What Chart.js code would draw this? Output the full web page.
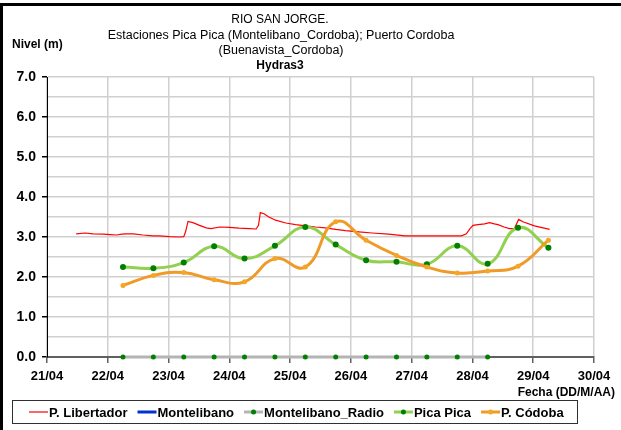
<!DOCTYPE html>
<html lang="es">
<head>
<meta charset="utf-8">
<title>Rio San Jorge - Hydras3</title>
<script src="https://cdn.jsdelivr.net/npm/chart.js@4.4.0/dist/chart.umd.min.js"></script>
<style>
  html, body { margin: 0; padding: 0; background: #fff; }
</style>
</head>
<body>
<canvas id="Niveles" width="621" height="430"></canvas>
<script>
// Fechas como día de abril con fracción (23.5 = 23/04 12:00)
const fechasLibertador = [
  21.48, 21.63, 21.76, 21.93, 22.04, 22.15, 22.23, 22.31, 22.42, 22.58,
  22.74, 22.85, 23.02, 23.18, 23.25, 23.28, 23.32, 23.40, 23.51, 23.62,
  23.70, 23.84, 24.00, 24.16, 24.33, 24.44, 24.48, 24.51, 24.57, 24.65,
  24.76, 24.93, 25.09, 25.26, 25.42, 25.58, 25.75, 25.91, 26.13, 26.35,
  26.62, 26.89, 27.16, 27.44, 27.82, 27.90, 27.96, 28.01, 28.09, 28.20,
  28.28, 28.36, 28.42, 28.52, 28.61, 28.69, 28.76, 28.83, 29.02, 29.27
];
const nivelesLibertador = [
  3.08, 3.10, 3.08, 3.07, 3.06, 3.05, 3.07, 3.08, 3.08, 3.05,
  3.03, 3.03, 3.01, 3.00, 3.01, 3.13, 3.39, 3.36, 3.29, 3.23,
  3.21, 3.25, 3.24, 3.22, 3.21, 3.20, 3.29, 3.61, 3.58, 3.50,
  3.42, 3.35, 3.31, 3.28, 3.25, 3.23, 3.19, 3.16, 3.13, 3.10,
  3.07, 3.03, 3.03, 3.03, 3.03, 3.08, 3.21, 3.29, 3.31, 3.33,
  3.36, 3.33, 3.31, 3.25, 3.21, 3.21, 3.44, 3.38, 3.28, 3.19
];

// Montelibano no tiene datos en el periodo
const fechasMontelibano = [];
const nivelesMontelibano = [];

const fechasRadio = [22.25, 22.75, 23.25, 23.75, 24.25, 24.75, 25.25, 25.75, 26.25, 26.75, 27.25, 27.75, 28.25];
const nivelesRadio = [0, 0, 0, 0, 0, 0, 0, 0, 0, 0, 0, 0, 0];

const fechasEstaciones = [22.25, 22.75, 23.25, 23.75, 24.25, 24.75, 25.25, 25.75, 26.25, 26.75, 27.25, 27.75, 28.25, 28.75, 29.25];
const nivelesPicaPica = [2.25, 2.22, 2.36, 2.77, 2.46, 2.78, 3.25, 2.81, 2.42, 2.38, 2.32, 2.78, 2.33, 3.23, 2.73];
const nivelesCordoba = [1.79, 2.04, 2.11, 1.93, 1.88, 2.46, 2.25, 3.38, 2.92, 2.54, 2.25, 2.10, 2.15, 2.27, 2.92];

const nombresSeries = ["P. Libertador", "Montelibano", "Montelibano_Radio", "Pica Pica", "P. Códoba"];
const lineasTitulo = ["RIO SAN JORGE.", "Estaciones Pica Pica (Montelibano_Cordoba); Puerto Cordoba", "(Buenavista_Cordoba)"];
const subtitulo = "Hydras3";
const tituloEjeY = "Nivel (m)";
const tituloEjeX = "Fecha (DD/M/AA)";
const mes = "04";

const fuente = "'Liberation Sans', Arial, sans-serif";

function puntos(fechas, niveles) {
  return fechas.map((f, i) => ({ x: f, y: niveles[i] }));
}

// Títulos, marco y leyenda dibujados a mano
const decoracion = {
  id: "decoracion",
  afterDraw(chart) {
    const c = chart.ctx;
    c.save();

    // marco negro superior e izquierdo
    c.fillStyle = "#000";
    c.fillRect(0, 3, 621, 3);
    c.fillRect(0, 3, 3, 427);

    c.fillStyle = "#000";
    c.textAlign = "center";
    c.textBaseline = "middle";
    c.font = "12px " + fuente;
    c.fillText(lineasTitulo[0], 280, 20);
    c.font = "12.5px " + fuente;
    c.fillText(lineasTitulo[1], 281, 36);
    c.fillText(lineasTitulo[2], 281, 51);
    c.font = "bold 12px " + fuente;
    c.fillText(subtitulo, 280, 66);

    c.textAlign = "left";
    c.fillText(tituloEjeY, 12, 45);
    c.textAlign = "right";
    c.fillText(tituloEjeX, 615, 393);

    // leyenda
    c.strokeStyle = "#303030";
    c.lineWidth = 1;
    c.strokeRect(12.5, 400.5, 565, 23);

    let x = 29;
    const y = 412;
    c.textAlign = "left";
    c.font = "bold 13px " + fuente;
    chart.data.datasets.forEach((ds) => {
      c.strokeStyle = ds.borderColor;
      c.lineWidth = ds.borderWidth;
      c.beginPath();
      c.moveTo(x, y);
      c.lineTo(x + 19, y);
      c.stroke();
      if (ds.pointRadius > 0) {
        c.fillStyle = ds.pointBackgroundColor;
        c.beginPath();
        c.arc(x + 9.5, y, 2.5, 0, Math.PI * 2);
        c.fill();
      }
      x += 20;
      c.fillStyle = "#000";
      c.fillText(ds.label, x, y + 1);
      x += c.measureText(ds.label).width + 10;
    });

    c.restore();
  },
};

var ctx = document.getElementById("Niveles").getContext("2d");

new Chart(ctx, {
  type: "line",
  data: {
    datasets: [
      {
        label: nombresSeries[0],
        data: puntos(fechasLibertador, nivelesLibertador),
        borderColor: "#ff0000",
        borderWidth: 1.2,
        pointRadius: 0,
        tension: 0,
        order: 5,
      },
      {
        label: nombresSeries[1],
        data: puntos(fechasMontelibano, nivelesMontelibano),
        borderColor: "#0033cc",
        borderWidth: 3,
        pointRadius: 0,
        order: 4,
      },
      {
        label: nombresSeries[2],
        data: puntos(fechasRadio, nivelesRadio),
        borderColor: "#b4b4b4",
        borderWidth: 3,
        pointRadius: 2.5,
        pointBackgroundColor: "#008000",
        pointBorderWidth: 0,
        tension: 0,
        clip: false,
        order: 3,
      },
      {
        label: nombresSeries[3],
        data: puntos(fechasEstaciones, nivelesPicaPica),
        borderColor: "#92d050",
        borderWidth: 3,
        pointRadius: 3,
        pointBackgroundColor: "#008000",
        pointBorderWidth: 0,
        tension: 0.45,
        order: 2,
      },
      {
        label: nombresSeries[4],
        data: puntos(fechasEstaciones, nivelesCordoba),
        borderColor: "#f09a28",
        borderWidth: 3,
        pointRadius: 2.5,
        pointBackgroundColor: "#f5a623",
        pointBorderWidth: 0,
        tension: 0.45,
        order: 1,
      },
    ],
  },
  options: {
    responsive: false,
    animation: false,
    devicePixelRatio: 1,
    layout: { padding: { left: 0, top: 77, right: 27, bottom: 0 } },
    plugins: {
      legend: { display: false },
      tooltip: { enabled: false },
    },
    scales: {
      x: {
        type: "linear",
        min: 21,
        max: 30,
        afterFit: (scale) => { scale.height = 73; },
        ticks: {
          stepSize: 1,
          autoSkip: false,
          maxRotation: 0,
          padding: 6,
          color: "#000",
          font: { family: fuente, size: 13, weight: "bold" },
          callback: (v) => v + "/" + mes,
        },
        grid: { color: "#d0d0d0", lineWidth: 1.5, tickLength: 6, tickColor: "#606060" },
        border: { color: "#606060", width: 2 },
      },
      y: {
        min: 0,
        max: 7,
        afterFit: (scale) => { scale.width = 47; },
        ticks: {
          stepSize: 0.5,
          padding: 6,
          color: "#000",
          font: { family: fuente, size: 14, weight: "bold" },
          callback: (v) => (Number.isInteger(v) ? v.toFixed(1) : ""),
        },
        grid: {
          color: "#d0d0d0",
          lineWidth: 1.5,
          tickLength: 5,
          tickColor: (c) => (c.tick && Number.isInteger(c.tick.value) ? "#000" : "rgba(0,0,0,0)"),
        },
        border: { color: "#000", width: 1 },
      },
    },
  },
  plugins: [decoracion],
});
</script>
</body>
</html>
